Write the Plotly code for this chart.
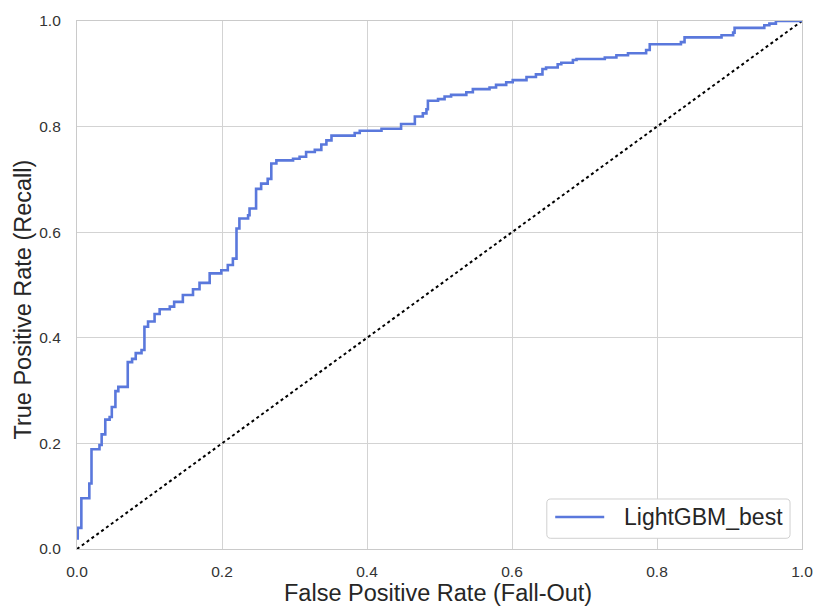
import plotly.graph_objects as go

fpr = [0.0, 0.001, 0.006, 0.017, 0.020, 0.031, 0.034, 0.039, 0.045, 0.048, 0.053,
       0.057, 0.070, 0.076, 0.081, 0.089, 0.093, 0.098, 0.107, 0.114, 0.128,
       0.134, 0.146, 0.160, 0.169, 0.183, 0.199, 0.208, 0.215, 0.220, 0.224,
       0.236, 0.238, 0.247, 0.254, 0.263, 0.268, 0.275, 0.298, 0.307, 0.316,
       0.328, 0.337, 0.344, 0.351, 0.383, 0.390, 0.420, 0.447, 0.466, 0.477,
       0.482, 0.484, 0.498, 0.507, 0.516, 0.537, 0.546, 0.569, 0.578, 0.592,
       0.601, 0.620, 0.633, 0.642, 0.647, 0.663, 0.668, 0.684, 0.689, 0.728,
       0.744, 0.760, 0.785, 0.790, 0.833, 0.838, 0.889, 0.905, 0.907, 0.948,
       0.955, 0.964, 1.0]
tpr = [0.020, 0.040, 0.096, 0.124, 0.189, 0.197, 0.217, 0.245, 0.250, 0.269, 0.299,
       0.307, 0.354, 0.360, 0.371, 0.377, 0.421, 0.431, 0.445, 0.454, 0.459,
       0.468, 0.481, 0.492, 0.504, 0.522, 0.528, 0.538, 0.550, 0.607, 0.626,
       0.632, 0.645, 0.682, 0.692, 0.701, 0.730, 0.736, 0.739, 0.743, 0.752,
       0.756, 0.766, 0.774, 0.783, 0.788, 0.792, 0.796, 0.805, 0.819, 0.825,
       0.833, 0.849, 0.852, 0.857, 0.860, 0.865, 0.871, 0.874, 0.879, 0.884,
       0.888, 0.894, 0.899, 0.909, 0.912, 0.918, 0.921, 0.926, 0.928, 0.931,
       0.935, 0.939, 0.945, 0.956, 0.960, 0.969, 0.973, 0.978, 0.987, 0.992,
       0.995, 1.0, 1.0]
chance = [0.0, 1.0]
ticks = [0.0, 0.2, 0.4, 0.6, 0.8, 1.0]
tick_labels = ["0.0", "0.2", "0.4", "0.6", "0.8", "1.0"]
model_name = "LightGBM_best"
x_title = "False Positive Rate (Fall-Out)"
y_title = "True Positive Rate (Recall)"

line_color = "#5A78DC"
font_family = "Liberation Sans, Arial, sans-serif"

fig = go.Figure()
fig.add_trace(go.Scatter(x=chance, y=chance, mode="lines", showlegend=False,
                         line=dict(color="black", width=2, dash="dot")))
fig.add_trace(go.Scatter(x=fpr, y=tpr, mode="lines", name=model_name, showlegend=False,
                         line=dict(color=line_color, width=2.6, shape="hv")))

axis_common = dict(range=[0, 1], tickvals=ticks, ticktext=tick_labels,
                   showgrid=True, gridcolor="#d3d3d3", gridwidth=1,
                   showline=True, linecolor="#cacaca", linewidth=1.2, mirror=True,
                   zeroline=False, ticks="outside",
                   tickcolor="rgba(0,0,0,0)", automargin=False,
                   tickfont=dict(size=15.5, color="#333333", family=font_family))
fig.update_xaxes(**axis_common, ticklen=8)
fig.update_yaxes(**axis_common, ticklen=12)

title_font = dict(size=23.5, color="#262626", family=font_family)

# manual legend box (rounded) with line sample and label
bx0, bx1, by0, by1 = 0.648, 0.9835, 0.0203, 0.0947
rx, ry = 0.0055, 0.0076
path = (f"M {bx0+rx},{by0} L {bx1-rx},{by0} Q {bx1},{by0} {bx1},{by0+ry} "
        f"L {bx1},{by1-ry} Q {bx1},{by1} {bx1-rx},{by1} L {bx0+rx},{by1} "
        f"Q {bx0},{by1} {bx0},{by1-ry} L {bx0},{by0+ry} Q {bx0},{by0} {bx0+rx},{by0} Z")
fig.add_shape(type="path", path=path, xref="paper", yref="paper",
              line=dict(color="#d0d0d0", width=1), fillcolor="white", layer="above")
fig.add_shape(type="line", xref="paper", yref="paper", x0=0.6596, x1=0.7272,
              y0=0.0606, y1=0.0606, line=dict(color=line_color, width=2.6), layer="above")

fig.update_layout(
    width=814, height=606,
    margin=dict(l=76.5, r=12, t=21, b=57, autoexpand=False),
    plot_bgcolor="white", paper_bgcolor="white",
    font=dict(family=font_family),
    showlegend=False,
    annotations=[
        dict(text=model_name, xref="paper", yref="paper", x=0.7515, y=0.0606,
             xanchor="left", yanchor="middle", showarrow=False,
             font=dict(size=23, color="#262626", family=font_family)),
        dict(text=x_title, xref="paper", yref="paper", x=0.498, y=-0.084,
             xanchor="center", yanchor="middle", showarrow=False, font=title_font),
        dict(text=y_title, xref="paper", yref="paper", x=-0.0751, y=0.4716,
             xanchor="center", yanchor="middle", showarrow=False, textangle=-90,
             font=title_font),
    ],
)
# remove the default page margin so the 814x606 figure fills the window exactly
fig.write_html("out.html", config={"displayModeBar": False},
               post_script="document.body.style.margin='0';document.body.style.overflow='hidden';")
